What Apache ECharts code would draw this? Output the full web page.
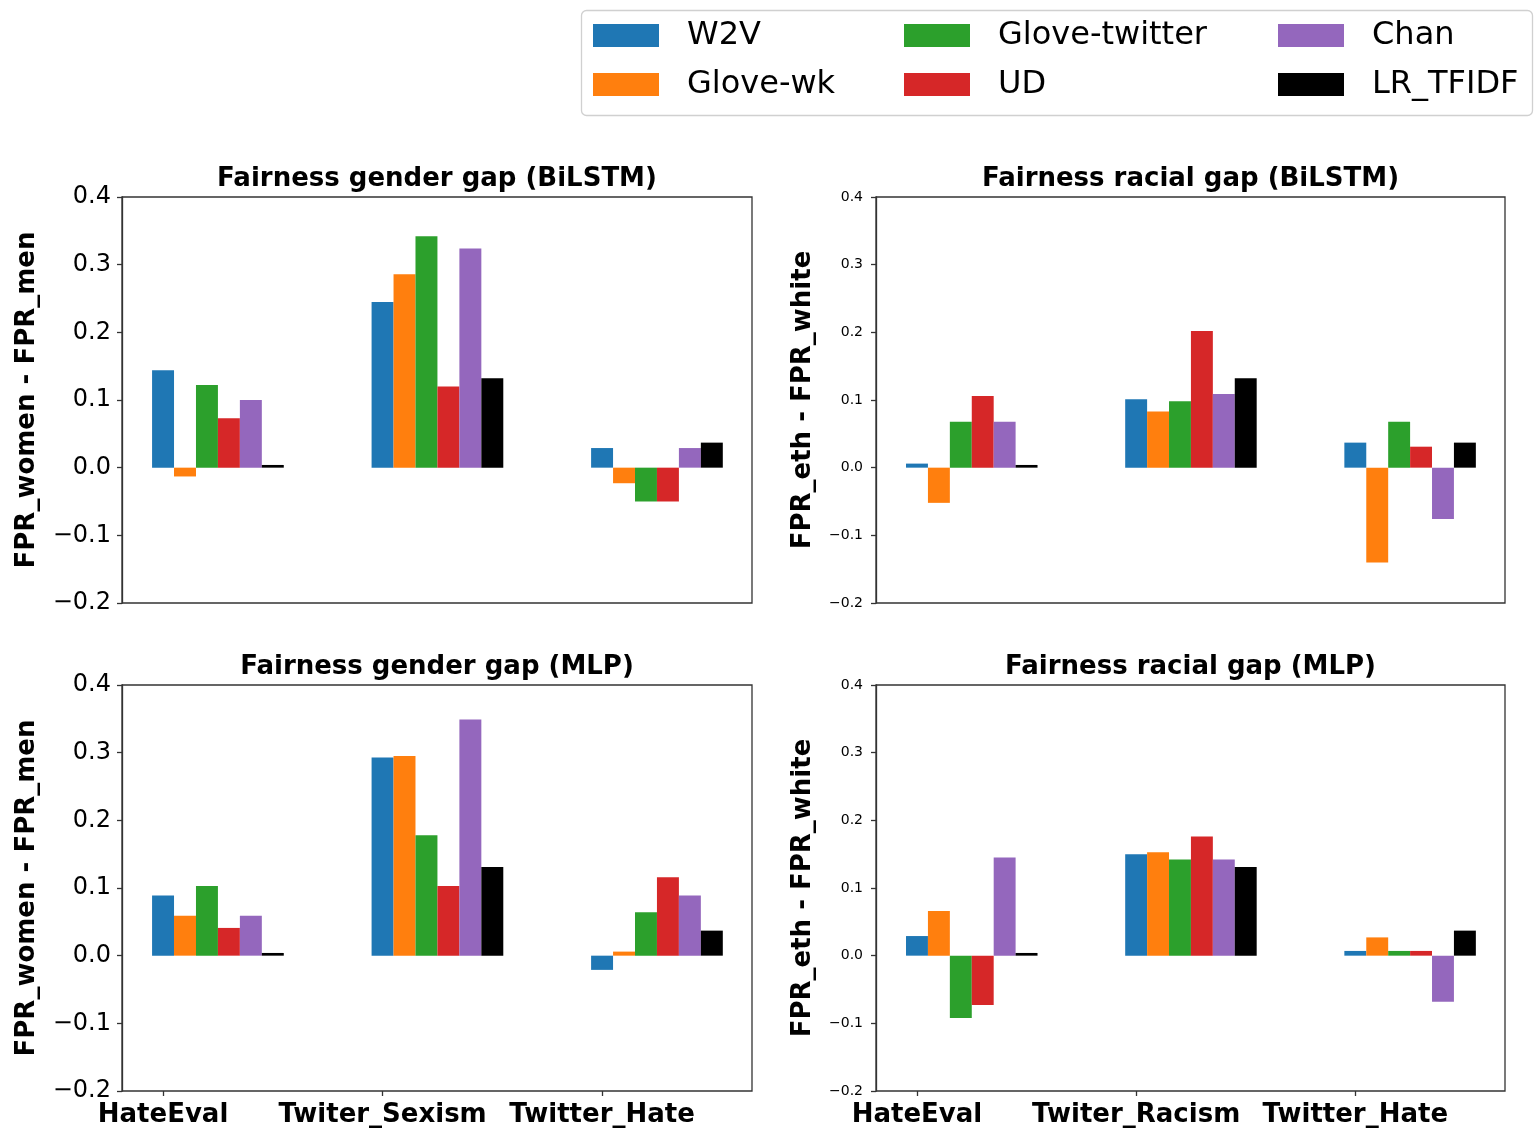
<!DOCTYPE html>
<html>
<head>
<meta charset="utf-8">
<script src="https://cdn.jsdelivr.net/npm/echarts@6/dist/echarts.min.js"></script>
<style>
html,body{margin:0;padding:0;background:#fff;}
#chart{width:1534px;height:1129px;}
</style>
</head>
<body>
<div id="chart"></div>
<script>
// ---------- data ----------
const models = ['W2V', 'Glove-wk', 'Glove-twitter', 'UD', 'Chan', 'LR_TFIDF'];
const colors = ['#1f77b4', '#ff7f0e', '#2ca02c', '#d62728', '#9467bd', '#000000'];
const genderCats = ['HateEval', 'Twiter_Sexism', 'Twitter_Hate'];
const racialCats = ['HateEval', 'Twiter_Racism', 'Twitter_Hate'];
const yTicks = [-0.2, -0.1, 0.0, 0.1, 0.2, 0.3, 0.4];

// rows: one per model (same order as models), columns: categories
const genderBiLSTM = [
  [0.144, 0.245, 0.029],
  [-0.013, 0.286, -0.023],
  [0.122, 0.342, -0.050],
  [0.073, 0.120, -0.050],
  [0.100, 0.324, 0.029],
  [0.004, 0.132, 0.037]
];
const racialBiLSTM = [
  [0.006, 0.101, 0.037],
  [-0.052, 0.083, -0.140],
  [0.068, 0.098, 0.068],
  [0.106, 0.202, 0.031],
  [0.068, 0.109, -0.076],
  [0.004, 0.132, 0.037]
];
const genderMLP = [
  [0.089, 0.293, -0.021],
  [0.059, 0.295, 0.006],
  [0.103, 0.178, 0.064],
  [0.041, 0.103, 0.116],
  [0.059, 0.349, 0.089],
  [0.004, 0.131, 0.037]
];
const racialMLP = [
  [0.029, 0.150, 0.007],
  [0.066, 0.153, 0.027],
  [-0.092, 0.142, 0.007],
  [-0.073, 0.176, 0.007],
  [0.145, 0.142, -0.068],
  [0.004, 0.131, 0.037]
];

// ---------- layout ----------
const FONT = 'DejaVu Sans';
const BAR_W = 0.1;
const panels = [
  {title: 'Fairness gender gap (BiLSTM)', data: genderBiLSTM, cats: genderCats, yname: 'FPR_women - FPR_men', left: 122, top: 197, width: 630, big: true, bottom: false},
  {title: 'Fairness racial gap (BiLSTM)', data: racialBiLSTM, cats: racialCats, yname: 'FPR_eth - FPR_white', left: 876, top: 197, width: 629, big: false, bottom: false},
  {title: 'Fairness gender gap (MLP)', data: genderMLP, cats: genderCats, yname: 'FPR_women - FPR_men', left: 122, top: 685, width: 630, big: true, bottom: true},
  {title: 'Fairness racial gap (MLP)', data: racialMLP, cats: racialCats, yname: 'FPR_eth - FPR_white', left: 876, top: 685, width: 629, big: false, bottom: true}
];
const PANEL_H = 406;

function fmtY(v) {
  if (Math.abs(v) < 1e-9) return '0.0';
  return v.toFixed(1).replace('-', '\u2212');
}

function renderBar(params, api) {
  const x = api.value(0), y = api.value(1);
  const p0 = api.coord([x - BAR_W / 2, 0]);
  const p1 = api.coord([x + BAR_W / 2, y]);
  return {
    type: 'rect',
    shape: {x: p0[0], y: Math.min(p0[1], p1[1]), width: p1[0] - p0[0], height: Math.abs(p1[1] - p0[1])},
    style: {fill: api.visual('color')}
  };
}

const grids = [], xAxes = [], yAxes = [], titles = [], series = [];
panels.forEach((p, gi) => {
  grids.push({left: p.left, top: p.top, width: p.width, height: PANEL_H, show: true,
    borderColor: '#333', borderWidth: 1.3, backgroundColor: 'transparent', containLabel: false});
  titles.push({text: p.title, left: p.left + p.width / 2, top: p.top - 31, textAlign: 'center', padding: 0,
    textStyle: {fontFamily: FONT, fontWeight: 'bold', fontSize: 26, color: '#000'}});
  const cats = p.cats;
  xAxes.push({
    gridIndex: gi, type: 'value', min: -0.187, max: 2.683, position: 'bottom',
    axisLine: {show: false, onZero: false},
    splitLine: {show: false},
    axisTick: {show: p.bottom, customValues: [0, 1, 2], length: 5, lineStyle: {color: '#333', width: 1.3}},
    axisLabel: {show: p.bottom, customValues: [0, 1, 2], margin: 11,
      formatter: v => cats[Math.round(v)],
      fontFamily: FONT, fontWeight: 'bold', fontSize: 26, color: '#000'}
  });
  yAxes.push({
    gridIndex: gi, type: 'value', min: -0.2, max: 0.4, interval: 0.1, position: 'left',
    name: p.yname, nameLocation: 'middle', nameRotate: 90, nameGap: p.big ? 82 : 60,
    nameTextStyle: {fontFamily: FONT, fontWeight: 'bold', fontSize: 26, color: '#000'},
    axisLine: {show: true, onZero: false, lineStyle: {color: '#333', width: 1.3}},
    splitLine: {show: false},
    axisTick: {show: true, length: 5, lineStyle: {color: '#333', width: 1.3}},
    axisLabel: {margin: p.big ? 11 : 13, formatter: fmtY, fontFamily: FONT, fontSize: p.big ? 24 : 14, color: '#000'}
  });
  models.forEach((m, k) => {
    series.push({
      name: m, type: 'custom', xAxisIndex: gi, yAxisIndex: gi,
      itemStyle: {color: colors[k]},
      renderItem: renderBar,
      encode: {x: 0, y: 1},
      data: p.data[k].map((v, i) => [i + k * BAR_W, v])
    });
  });
});

function legendCol(names, left) {
  return {
    data: names, left: left, top: 15, orient: 'vertical', padding: 0,
    icon: 'rect', itemWidth: 66, itemHeight: 23, itemGap: 8,
    selectedMode: false,
    textStyle: {fontFamily: FONT, fontSize: 32, lineHeight: 32, color: '#000', padding: [9, 0, 0, 23]}
  };
}

const option = {
  animation: false,
  backgroundColor: '#fff',
  title: titles,
  legend: [
    legendCol([models[0], models[1]], 593),
    legendCol([models[2], models[3]], 904),
    legendCol([models[4], models[5]], 1278)
  ],
  graphic: [{
    type: 'rect', z: -1,
    shape: {x: 581.5, y: 10.5, width: 951, height: 105, r: 5},
    style: {fill: '#fff', stroke: '#d0d0d0', lineWidth: 1.3}
  }],
  grid: grids,
  xAxis: xAxes,
  yAxis: yAxes,
  series: series
};

const chart = echarts.init(document.getElementById('chart'), null, {renderer: 'canvas'});
chart.setOption(option);
</script>
</body>
</html>
